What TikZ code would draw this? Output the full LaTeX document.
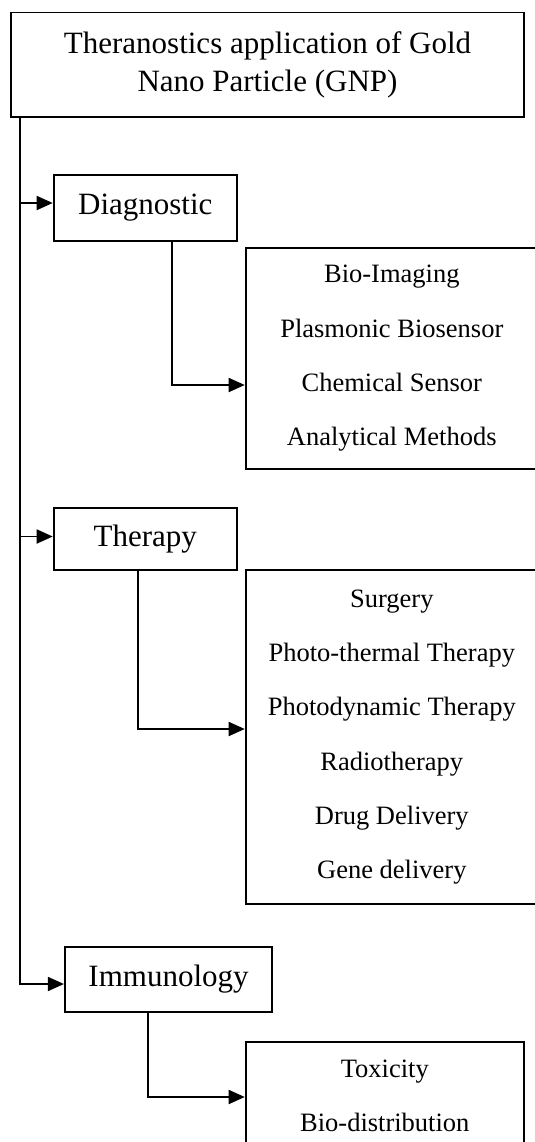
\documentclass[tikz,border=0pt]{standalone}
\usepackage{fontspec}
\setmainfont{Liberation Serif}
\usetikzlibrary{arrows.meta,calc}
\begin{document}
\begin{tikzpicture}[x=0.5pt,y=-0.5pt,
  box/.style={draw=black,line width=0.9pt,inner sep=0pt,align=center},
  bigfont/.style={font=\fontsize{15.5pt}{19pt}\selectfont},
  smallfont/.style={font=\fontsize{13.25pt}{27.15pt}\selectfont},
  conn/.style={draw=black,line width=0.9pt},
  arr/.style={conn,-{Triangle[length=8pt,width=7pt]}}]
\useasboundingbox (0,0) rectangle (535,1142);

\node[box,bigfont,minimum width=256.5pt,minimum height=52.25pt] (top) at (267.5,64.75)
  {Theranostics application of Gold\\Nano Particle (GNP)};

\node[box,bigfont,minimum width=91.7pt,minimum height=33pt] (diag) at (145.3,208) {Diagnostic};
\node[box,smallfont,minimum width=146.2pt,minimum height=110.5pt] (diagc) at (391.8,358.5)
  {Bio-Imaging\\Plasmonic Biosensor\\Chemical Sensor\\Analytical Methods};

\node[box,bigfont,minimum width=91.7pt,minimum height=31pt] (ther) at (145.3,539) {Therapy};
\node[box,smallfont,minimum width=146.2pt,minimum height=167pt] (therc) at (391.8,737)
  {Surgery\\Photo-thermal Therapy\\Photodynamic Therapy\\Radiotherapy\\Drug Delivery\\Gene delivery};

\node[box,bigfont,minimum width=103.75pt,minimum height=32.5pt] (imm) at (168.55,979.5) {Immunology};
\node[box,smallfont,minimum width=139.2pt,minimum height=54pt] (immc) at (384.8,1096)
  {Toxicity\\Bio-distribution};

\coordinate (trunk) at ([xshift=5pt]top.south west);
\coordinate (da) at ([yshift=2.5pt]diag.west);
\coordinate (ta) at ([yshift=1.25pt]ther.west);
\coordinate (ia) at ([yshift=-2.25pt]imm.west);

\draw[arr] (trunk) |- (ia);
\draw[arr] (trunk |- da) -- (da);
\draw[arr] (trunk |- ta) -- (ta);

\draw[arr] ([xshift=13.15pt]diag.south) |- ([yshift=-13.25pt]diagc.west);
\draw[arr] ([xshift=-3.65pt]ther.south) |- ([yshift=4pt]therc.west);
\draw[arr] ([xshift=-10.1pt]imm.south) |- ([yshift=-0.5pt]immc.west);
\end{tikzpicture}
\end{document}
